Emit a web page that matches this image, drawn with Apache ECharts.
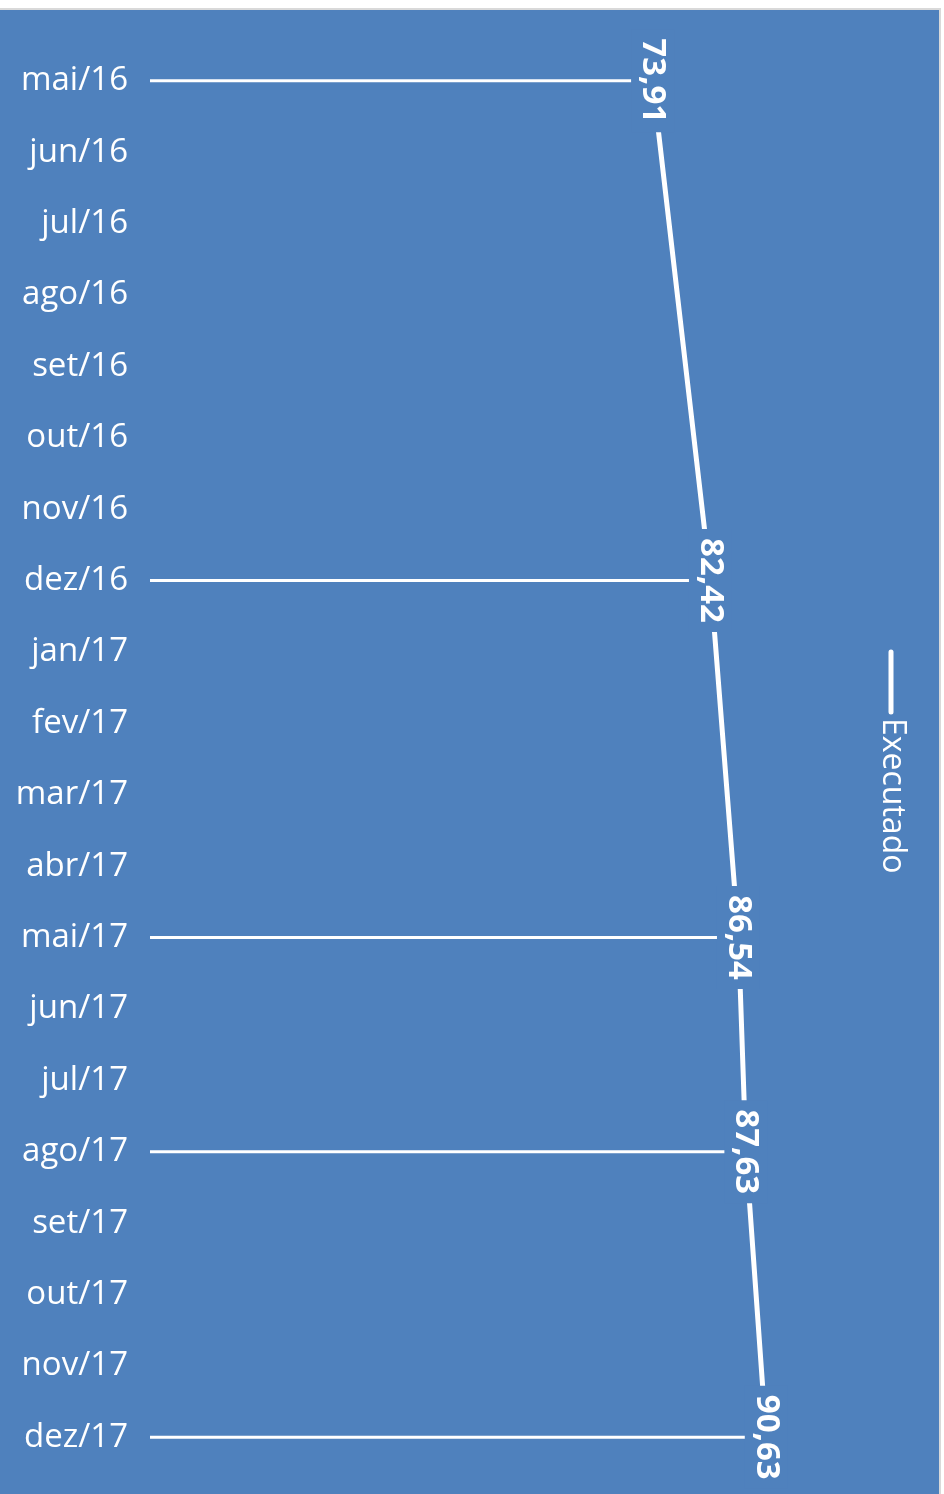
<!DOCTYPE html>
<html>
<head>
<meta charset="utf-8">
<script src="https://cdn.jsdelivr.net/npm/echarts@6/dist/echarts.min.js"></script>
<style>
  html, body { margin: 0; padding: 0; background: #fff; }
  #chart { width: 944px; height: 1494px; }
</style>
</head>
<body>
<div id="chart"></div>
<script>
  // months on the vertical axis
  var months = ['mai/16', 'jun/16', 'jul/16', 'ago/16', 'set/16', 'out/16', 'nov/16', 'dez/16',
    'jan/17', 'fev/17', 'mar/17', 'abr/17', 'mai/17', 'jun/17', 'jul/17', 'ago/17',
    'set/17', 'out/17', 'nov/17', 'dez/17']
  // executed values, null where nothing was reported
  var executado = [73.91, null, null, null, null, null, null, 82.42,
    null, null, null, null, 86.54, null, null, 87.63,
    null, null, null, 90.63]
  var seriesName = 'Executado'
  var bg = '#4f81bd'

  var chart = echarts.init(document.getElementById('chart'))
  var option = {
    backgroundColor: '#fff',
    animation: false,
    graphic: [
      { type: 'rect', z: -10, shape: { x: 0, y: 8, width: 941, height: 1486 }, style: { fill: '#d9d9d9' } },
      { type: 'rect', z: -9, shape: { x: 0, y: 10, width: 939, height: 1484 }, style: { fill: bg } },
      { type: 'line', shape: { x1: 891, y1: 652, x2: 891, y2: 712 }, style: { stroke: '#fff', lineWidth: 5, lineCap: 'round' } },
      {
        type: 'text', x: 892, y: 718, rotation: -Math.PI / 2,
        style: { text: seriesName, fill: '#fff', font: '32px "Open Sans"', textAlign: 'left', textVerticalAlign: 'middle' }
      }
    ],
    grid: { left: 150, right: 114, top: 45, bottom: 21 },
    xAxis: {
      type: 'value',
      min: 0,
      max: 100,
      show: false
    },
    yAxis: {
      type: 'category',
      data: months,
      inverse: true,
      axisLine: { show: false },
      axisTick: { show: false },
      splitLine: { show: false },
      axisLabel: { color: '#fff', fontSize: 33, fontFamily: 'Open Sans', margin: 22 }
    },
    series: [
      {
        type: 'bar',
        z: 1,
        barWidth: 3,
        data: executado,
        itemStyle: { color: '#fff' },
        silent: true
      },
      {
        name: seriesName,
        type: 'line',
        z: 3,
        data: executado,
        connectNulls: true,
        symbol: 'circle',
        symbolSize: 0,
        showSymbol: true,
        lineStyle: { color: '#fff', width: 5 },
        label: {
          show: true,
          position: 'inside',
          rotate: -90,
          color: '#fff',
          fontSize: 33,
          fontWeight: 'bold',
          fontFamily: 'Open Sans',
          backgroundColor: bg,
          padding: [5, 9, 5, 9],
          formatter: function (p) {
            return p.value == null ? '' : p.value.toFixed(2).replace('.', ',')
          }
        }
      }
    ]
  }
  chart.setOption(option)
</script>
</body>
</html>
